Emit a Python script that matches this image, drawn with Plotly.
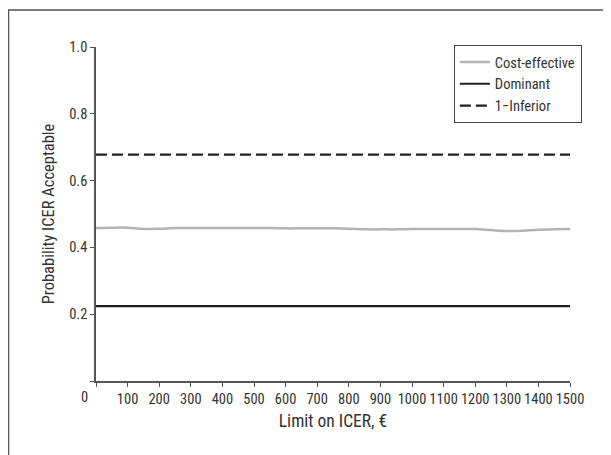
import plotly.graph_objects as go

limit_x = [0, 50, 100, 150, 200, 250, 300, 350, 400, 450, 500, 550, 600, 650, 700, 750,
           800, 850, 900, 950, 1000, 1050, 1100, 1150, 1200, 1250, 1300, 1350, 1400, 1450, 1500]
cost_effective = [0.458, 0.459, 0.459, 0.455, 0.456, 0.458, 0.458, 0.458, 0.458, 0.458, 0.458,
                  0.458, 0.457, 0.457, 0.457, 0.457, 0.456, 0.454, 0.454, 0.454, 0.455, 0.455,
                  0.455, 0.455, 0.455, 0.452, 0.449, 0.450, 0.453, 0.454, 0.455]
dominant = [0.224] * len(limit_x)
one_minus_inferior = [0.678] * len(limit_x)

x_ticks = list(range(0, 1501, 100))
x_ticktext = [""] + [str(v) for v in x_ticks[1:]]
y_ticks = [0, 0.2, 0.4, 0.6, 0.8, 1.0]
y_ticktext = ["", "0.2", "0.4", "0.6", "0.8", "1.0"]

FONT = "Liberation Sans Narrow, Roboto Condensed, Arial Narrow, Liberation Sans, Arial, sans-serif"
AXIS_COLOR = "#555555"
TEXT_COLOR = "#333333"
TICK_SIZE = 14.5
TITLE_SIZE = 16.5

fig = go.Figure()
fig.add_trace(go.Scatter(x=limit_x, y=cost_effective, mode="lines", name="Cost-effective",
                         line=dict(color="#b3b3b3", width=2.5, shape="spline")))
fig.add_trace(go.Scatter(x=limit_x, y=dominant, mode="lines", name="Dominant",
                         line=dict(color="#231f20", width=2.2)))
fig.add_trace(go.Scatter(x=limit_x, y=one_minus_inferior, mode="lines", name="1\u2212Inferior",
                         line=dict(color="#231f20", width=2.2, dash="11px,5px")))

fig.update_layout(
    width=611, height=455,
    margin=dict(l=88, r=49, t=39, b=82),
    paper_bgcolor="white", plot_bgcolor="white",
    font=dict(family=FONT, size=TICK_SIZE, color=TEXT_COLOR),
    showlegend=True,
    legend=dict(x=1.025, y=1.006, xanchor="right", yanchor="top",
                bordercolor="#444444", borderwidth=1, bgcolor="white",
                font=dict(size=14.5), tracegroupgap=0, itemwidth=30),
    xaxis=dict(range=[0, 1500], tickvals=x_ticks, ticktext=x_ticktext,
               showgrid=False, zeroline=False, showline=True, linecolor=AXIS_COLOR, linewidth=1.5,
               ticks="outside", ticklen=4, tickcolor=AXIS_COLOR, tickwidth=1.2,
               title=dict(text="Limit on ICER, \u20ac", standoff=8, font=dict(size=17.5)),
               tickfont=dict(size=TICK_SIZE)),
    yaxis=dict(range=[0, 1.0], tickvals=y_ticks, ticktext=y_ticktext,
               showgrid=False, zeroline=False, showline=True, linecolor=AXIS_COLOR, linewidth=1.5,
               ticks="outside", ticklen=4, tickcolor=AXIS_COLOR, tickwidth=1.2,
               title=dict(text="Probability ICER Acceptable", standoff=10, font=dict(size=TITLE_SIZE)),
               tickfont=dict(size=TICK_SIZE)),
)

# origin label "0" placed left of the axis as in the reference
fig.add_annotation(x=-0.0253, y=0, xref="paper", yref="paper", text="0", showarrow=False,
                   xanchor="center", yanchor="middle", yshift=-16,
                   font=dict(family=FONT, size=TICK_SIZE, color=TEXT_COLOR))

# outer frame (extends past right and bottom edges)
fig.add_shape(type="rect", xref="paper", yref="paper",
              x0=-0.1846, x1=1.3, y0=-0.4, y1=1.111,
              line=dict(color=AXIS_COLOR, width=1.5), fillcolor="rgba(0,0,0,0)", layer="below")

fig.write_html("out.html")
